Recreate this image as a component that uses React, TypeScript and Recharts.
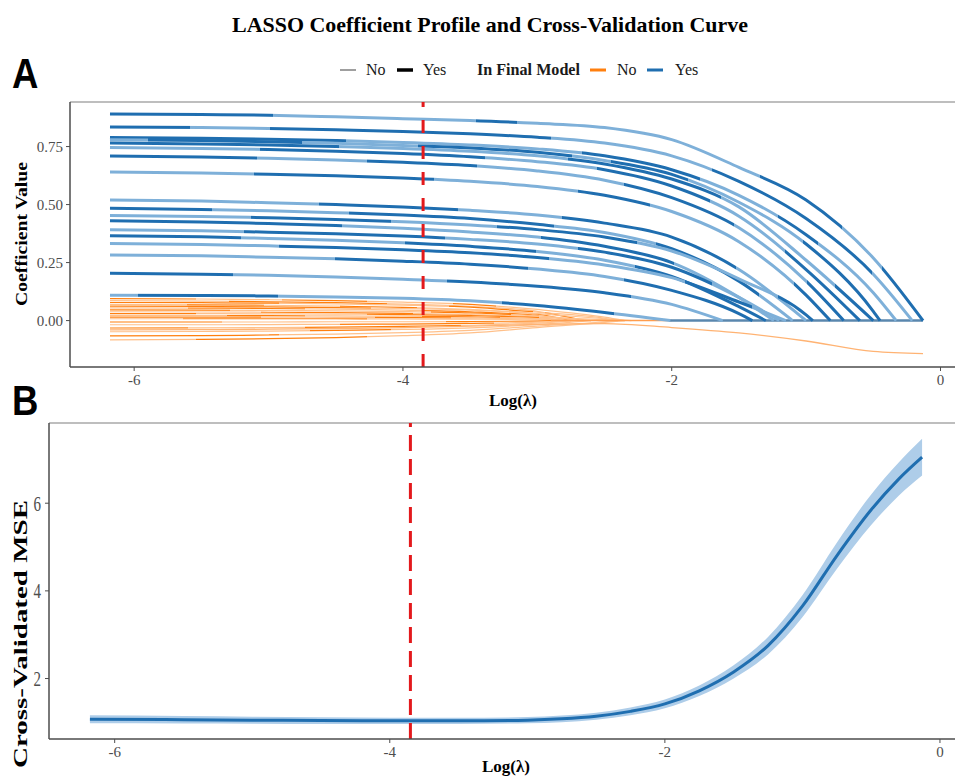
import React from 'react';
import { LineChart, Line, XAxis, YAxis, ReferenceLine, ComposedChart, Area } from 'recharts';

// log(lambda) grid shared by the coefficient paths
const LAM_GRID = [-6.18, -5.5, -5, -4.5, -4, -3.5, -3, -2.5, -2, -1.5, -1, -0.5];
const LAM_END = -0.13;
const LAM_MIN = -3.85;
const X_DOMAIN: [number, number] = [-6.4775, 0.1675];
const X_TICKS = [-6, -4, -2, 0];

// coefficients kept in the final model (value at each grid point until they hit zero)
const keptValues: number[][] = [
  [0.89, 0.888, 0.885, 0.878, 0.87, 0.862, 0.85, 0.832, 0.78, 0.66, 0.52, 0.27],
  [0.834, 0.832, 0.828, 0.822, 0.815, 0.805, 0.79, 0.765, 0.71, 0.6, 0.44, 0.2],
  [0.789, 0.786, 0.782, 0.776, 0.768, 0.757, 0.74, 0.71, 0.65, 0.54, 0.37, 0.12],
  [0.779, 0.776, 0.771, 0.764, 0.755, 0.744, 0.725, 0.69, 0.63, 0.51, 0.33, 0.04],
  [0.765, 0.761, 0.757, 0.75, 0.742, 0.73, 0.71, 0.675, 0.61, 0.49, 0.26],
  [0.746, 0.742, 0.737, 0.73, 0.72, 0.706, 0.685, 0.65, 0.58, 0.45, 0.22],
  [0.709, 0.705, 0.7, 0.692, 0.682, 0.668, 0.645, 0.605, 0.53, 0.4, 0.17],
  [0.64, 0.636, 0.631, 0.624, 0.614, 0.6, 0.578, 0.54, 0.47, 0.34, 0.11],
  [0.52, 0.515, 0.508, 0.5, 0.49, 0.475, 0.455, 0.42, 0.36, 0.22],
  [0.484, 0.479, 0.473, 0.465, 0.455, 0.44, 0.415, 0.38, 0.31, 0.17],
  [0.453, 0.449, 0.443, 0.436, 0.426, 0.412, 0.392, 0.36, 0.3, 0.18, 0.025],
  [0.43, 0.425, 0.418, 0.41, 0.398, 0.382, 0.36, 0.32, 0.25, 0.1],
  [0.391, 0.387, 0.381, 0.374, 0.364, 0.35, 0.33, 0.295, 0.23, 0.1],
  [0.366, 0.361, 0.354, 0.346, 0.335, 0.32, 0.298, 0.26, 0.19, 0.06],
  [0.332, 0.328, 0.322, 0.315, 0.305, 0.292, 0.272, 0.24, 0.185, 0.08],
  [0.283, 0.279, 0.273, 0.266, 0.256, 0.243, 0.222, 0.19, 0.13, 0.03],
  [0.204, 0.2, 0.195, 0.188, 0.178, 0.166, 0.148, 0.12, 0.07],
  [0.109, 0.108, 0.106, 0.102, 0.096, 0.085, 0.065, 0.035],
];
const keptZeroAt = [-0.13, -0.21, -0.33, -0.45, -0.5, -0.6, -0.72, -0.82, -1.0, -1.1, -0.95, -1.24, -1.2, -1.3, -1.15, -1.4, -1.62, -2.01];

// coefficients dropped from the final model
const droppedValues: number[][] = [
  [0.095, 0.093, 0.09, 0.086, 0.08, 0.07, 0.048, 0.015],
  [0.086, 0.084, 0.081, 0.077, 0.071, 0.061, 0.04],
  [0.078, 0.077, 0.075, 0.072, 0.067, 0.058, 0.036, 0.01],
  [0.07, 0.068, 0.066, 0.062, 0.057, 0.048, 0.028],
  [0.062, 0.061, 0.059, 0.056, 0.052, 0.045, 0.03, 0.008],
  [0.055, 0.054, 0.052, 0.049, 0.045, 0.038, 0.022],
  [0.046, 0.045, 0.044, 0.042, 0.039, 0.033, 0.02],
  [0.038, 0.037, 0.036, 0.034, 0.031, 0.026, 0.014],
  [0.03, 0.03, 0.029, 0.028, 0.026, 0.022, 0.014, 0.004],
  [0.022, 0.022, 0.021, 0.02, 0.019, 0.016, 0.009],
  [0.015, 0.015, 0.015, 0.014, 0.013, 0.011, 0.006],
  [0.008, 0.008, 0.008, 0.008, 0.007, 0.006, 0.003],
  [-0.006, -0.006, -0.006, -0.005, -0.005, -0.004, -0.002],
  [-0.018, -0.018, -0.017, -0.016, -0.015, -0.012, -0.007],
  [-0.032, -0.031, -0.03, -0.028, -0.025, -0.02, -0.011],
  [-0.048, -0.047, -0.045, -0.042, -0.038, -0.031, -0.017],
  [-0.066, -0.065, -0.062, -0.058, -0.052, -0.042, -0.024, -0.005],
  [-0.083, -0.081, -0.078, -0.073, -0.065, -0.053, -0.03, -0.008],
];
const droppedZeroAt = [-2.35, -2.65, -2.4, -2.75, -2.3, -2.7, -2.6, -2.8, -2.35, -2.7, -2.8, -2.9, -2.85, -2.75, -2.7, -2.6, -2.4, -2.35];

// the one dropped coefficient that turns negative and never reaches zero
const driftValues = [-0.04, -0.039, -0.037, -0.034, -0.03, -0.024, -0.016, -0.013, -0.03, -0.053, -0.088, -0.133];
const driftEnd = -0.142;

// cross-validation curve
const cvLambda = [-6.18, -5.5, -5, -4.5, -4, -3.5, -3, -2.75, -2.5, -2.25, -2, -1.75, -1.5, -1.25, -1, -0.75, -0.5, -0.3, -0.13];
const cvMean = [1.07, 1.06, 1.05, 1.04, 1.035, 1.035, 1.05, 1.08, 1.14, 1.25, 1.42, 1.72, 2.15, 2.75, 3.65, 4.8, 5.85, 6.55, 7.05];
const cvSE = [0.09, 0.085, 0.08, 0.075, 0.07, 0.07, 0.07, 0.075, 0.08, 0.09, 0.1, 0.12, 0.15, 0.2, 0.25, 0.3, 0.35, 0.38, 0.42];

// dark/light shading pattern along each path
const keptShade = [
  'ddddllllldllllllddld',
  'ddlldddddddllllddddl',
  'ddddddlllllldddlldll',
  'lddddlllddddlddllldd',
  'ddddddllllllddddllld',
  'llllddddddllldddlldd',
  'ddddllldddlllldddlld',
  'lllldddddllllddlllld',
  'llllllddddllldddddll',
  'dddllllddddddllldddl',
  'llllddddlllddddlllld',
  'dddddddllllllddddlll',
  'llllddddddllllddddll',
  'ddddlllllddddllldddd',
  'lllllddddddddllllddl',
  'lllllllddddddllldddd',
  'ddddlllllllddddddlll',
  'ldddddllllllllddddll',
];
const droppedShade = [
  'ddllddlldlll', 'lllddddlllld', 'ddddllllddll', 'llddllddllld',
  'ddddddllllll', 'lldddllldddl', 'dddlllllddll', 'llllddddllll',
  'ddllllddddll', 'lllddlllddll', 'ddddlllddlll', 'lldddddlllll',
  'dddllllllddd', 'llllllddddll', 'ddlllddddlll', 'lllllddlllll',
  'ddddllllllll', 'llddddllllll',
];

const BLUE = '#1f6eb0';
const BLUE_LIGHT = '#7eb0d9';
const ORANGE = '#ff7f0e';
const ORANGE_LIGHT = '#ffc08a';
const RED = '#e3191c';
const AXIS = '#4d4d4d';
const SERIF = '"Liberation Serif", "Times New Roman", serif';

type Pt = { x: number; y: number };

const toPath = (vals: number[], zeroAt: number): Pt[] =>
  vals.map((v, j) => ({ x: LAM_GRID[j], y: v })).concat({ x: zeroAt, y: 0 });

const keptSeries = keptValues.map((v, i) => toPath(v, keptZeroAt[i]));
const droppedSeries = droppedValues.map((v, i) => toPath(v, droppedZeroAt[i]));
const driftSeries: Pt[] = driftValues.map((v, j) => ({ x: LAM_GRID[j], y: v })).concat({ x: LAM_END, y: driftEnd });
const zeroOrange: Pt[] = [{ x: -2.9, y: 0 }, { x: -2.0, y: 0 }];
const zeroBlue: Pt[] = [{ x: -2.02, y: 0 }, { x: LAM_END, y: 0 }];

const cvRows = cvLambda.map((x, i) => ({
  x,
  mean: cvMean[i],
  band: [cvMean[i] - cvSE[i], cvMean[i] + cvSE[i]],
}));

const ShadeGradient = ({ id, pattern, dark, light }: { id: string; pattern: string; dark: string; light: string }) => {
  const n = pattern.length;
  const stops: React.ReactNode[] = [];
  pattern.split('').forEach((c, i) => {
    const col = c === 'd' ? dark : light;
    stops.push(<stop key={i + 'a'} offset={`${(i / n) * 100}%`} stopColor={col} />);
    stops.push(<stop key={i + 'b'} offset={`${((i + 1) / n) * 100}%`} stopColor={col} />);
  });
  return (
    <linearGradient id={id} x1="0" y1="0" x2="1" y2="0">
      {stops}
    </linearGradient>
  );
};

// serif tick labels; stretchY makes the MSE axis labels taller
const XTick = (props: any) => {
  const { x, y, payload } = props;
  return (
    <text x={x} y={y} textAnchor="middle" dy="0.75em" fontFamily={SERIF} fontSize={15} fill={AXIS}>
      {payload.value}
    </text>
  );
};

const YTick = (props: any) => {
  const { x, y, payload, stretchY = 1, fmt } = props;
  return (
    <text x={x} y={y} textAnchor="end" dy="0.35em" fontFamily={SERIF} fontSize={15} fill={AXIS}
      transform={`translate(0 ${y}) scale(1 ${stretchY}) translate(0 ${-y})`}>
      {fmt ? fmt(payload.value) : payload.value}
    </text>
  );
};

const lineProps = { dot: false, activeDot: false, isAnimationActive: false, dataKey: 'y', type: 'monotone' as const };

const App = () => {
  return (
    <div style={{ position: 'absolute', left: 0, top: 0, width: 955, height: 783, overflow: 'hidden', background: '#fff' }}>
      <svg width={0} height={0} style={{ position: 'absolute' }}>
        <defs>
          {keptShade.map((p, i) => (
            <ShadeGradient key={i} id={`kg${i}`} pattern={p} dark={BLUE} light={BLUE_LIGHT} />
          ))}
          {droppedShade.map((p, i) => (
            <ShadeGradient key={i} id={`dg${i}`} pattern={p} dark={ORANGE} light={ORANGE_LIGHT} />
          ))}
        </defs>
      </svg>

      {/* Panel A: coefficient paths */}
      <div style={{ position: 'absolute', left: 0, top: 92 }}>
        <LineChart width={970} height={323} margin={{ top: 10, right: 7, left: 0, bottom: 0 }}>
          <XAxis dataKey="x" type="number" domain={X_DOMAIN} ticks={X_TICKS} allowDataOverflow
            height={48} tick={<XTick />} tickSize={4} tickMargin={3}
            axisLine={{ stroke: AXIS, strokeWidth: 1.5 }} tickLine={{ stroke: AXIS }} />
          <YAxis type="number" domain={[-0.2, 0.942]} ticks={[0, 0.25, 0.5, 0.75]} allowDataOverflow
            width={70} tick={<YTick fmt={(v: number) => v.toFixed(2)} />} tickSize={4} tickMargin={3}
            axisLine={{ stroke: AXIS, strokeWidth: 1.5 }} tickLine={{ stroke: AXIS }} />
          <ReferenceLine y={0.942} stroke="#a8a8a8" strokeWidth={1.5} />
          {droppedSeries.map((pts, i) => (
            <Line key={'d' + i} {...lineProps} data={pts} stroke={`url(#dg${i})`} strokeWidth={1.2} />
          ))}
          <Line {...lineProps} data={driftSeries} stroke="#ffb373" strokeWidth={1.3} />
          <Line {...lineProps} type="linear" data={zeroOrange} stroke="#ff9d4d" strokeWidth={1.5} />
          <Line {...lineProps} type="linear" data={zeroBlue} stroke="#5a87ae" strokeWidth={2.5} />
          {keptSeries.map((pts, i) => (
            <Line key={'k' + i} {...lineProps} data={pts} stroke={`url(#kg${i})`} strokeWidth={3} />
          ))}
          <ReferenceLine x={LAM_MIN} stroke={RED} strokeWidth={3} strokeDasharray="13 13" />
        </LineChart>
      </div>

      {/* Panel B: cross-validated error */}
      <div style={{ position: 'absolute', left: 0, top: 412 }}>
        <ComposedChart width={970} height={372} data={cvRows} margin={{ top: 11, right: 7, left: 0, bottom: 0 }}>
          <XAxis dataKey="x" type="number" domain={X_DOMAIN} ticks={X_TICKS} allowDataOverflow
            height={45} tick={<XTick />} tickSize={4} tickMargin={3}
            axisLine={{ stroke: AXIS, strokeWidth: 1.5 }} tickLine={{ stroke: AXIS }} />
          <YAxis type="number" domain={[0.62, 7.83]} ticks={[2, 4, 6]} allowDataOverflow
            width={49} tick={<YTick stretchY={1.45} />} tickSize={4} tickMargin={4}
            axisLine={{ stroke: AXIS, strokeWidth: 1.5 }} tickLine={{ stroke: AXIS }} />
          <ReferenceLine y={7.83} stroke="#a8a8a8" strokeWidth={1.5} />
          <Area dataKey="band" type="monotone" stroke="none" fill="#aecde9" fillOpacity={1} isAnimationActive={false} activeDot={false} />
          <Line dataKey="mean" type="monotone" stroke={BLUE} strokeWidth={3} dot={false} activeDot={false} isAnimationActive={false} />
          <ReferenceLine x={LAM_MIN} stroke={RED} strokeWidth={3} strokeDasharray="16 8" />
        </ComposedChart>
      </div>

      {/* titles, legend and axis labels */}
      <svg width={955} height={783} style={{ position: 'absolute', left: 0, top: 0, pointerEvents: 'none' }}>
        <text x={490} y={32} textAnchor="middle" fontFamily={SERIF} fontWeight="bold" fontSize={21}
          textLength={516} lengthAdjust="spacingAndGlyphs">
          LASSO Coefficient Profile and Cross-Validation Curve
        </text>
        <g fontFamily='"Liberation Sans", Arial, sans-serif' fontWeight="bold" fontSize={43}>
          <text transform="translate(12 88) scale(0.85 1)">A</text>
          <text transform="translate(12 415) scale(0.85 1)">B</text>
        </g>

        <g fontFamily={SERIF} fontSize={16} fill="#1a1a1a">
          <line x1={340} x2={356} y1={70} y2={70} stroke="#7f7f7f" strokeWidth={1.5} />
          <text x={366} y={75}>No</text>
          <line x1={397} x2={413} y1={70} y2={70} stroke="#000" strokeWidth={3.5} />
          <text x={423} y={75}>Yes</text>
          <text x={477} y={75} fontWeight="bold" textLength={103} lengthAdjust="spacingAndGlyphs">In Final Model</text>
          <line x1={590} x2={606} y1={70} y2={70} stroke={ORANGE} strokeWidth={3} />
          <text x={617} y={75}>No</text>
          <line x1={647} x2={663} y1={70} y2={70} stroke={BLUE} strokeWidth={3} />
          <text x={675} y={75}>Yes</text>
        </g>

        <text x={513} y={406} textAnchor="middle" fontFamily={SERIF} fontWeight="bold" fontSize={17}>Log(λ)</text>
        <text x={506} y={772} textAnchor="middle" fontFamily={SERIF} fontWeight="bold" fontSize={17}>Log(λ)</text>
        <text transform="translate(27 234) rotate(-90)" textAnchor="middle" fontFamily={SERIF} fontWeight="bold" fontSize={17}
          textLength={144} lengthAdjust="spacingAndGlyphs">
          Coefficient Value
        </text>
        <text transform="translate(27 634) rotate(-90)" textAnchor="middle" fontFamily={SERIF} fontWeight="bold" fontSize={19}
          textLength={268} lengthAdjust="spacingAndGlyphs">
          Cross-Validated MSE
        </text>
      </svg>
    </div>
  );
};

export default App;
